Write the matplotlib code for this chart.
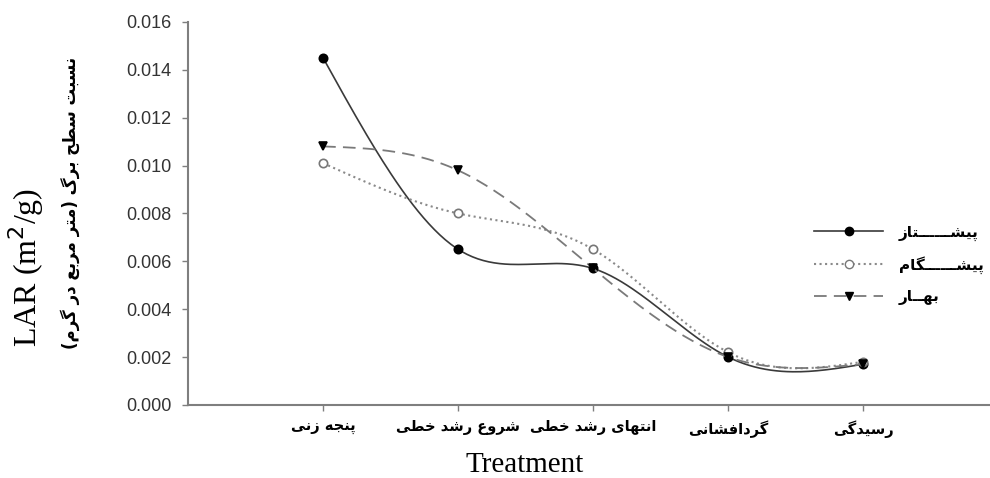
import numpy as np
import matplotlib
matplotlib.use('Agg')
import matplotlib.pyplot as plt

# Data
stages = ['پنجه زنی', 'شروع رشد خطی', 'انتهای رشد خطی', 'گردافشانی', 'رسیدگی']
x_pos = [1, 2, 3, 4, 5]
pishtaz = [0.0145, 0.0065, 0.0057, 0.0020, 0.0017]
pishgam = [0.0101, 0.0080, 0.0065, 0.0022, 0.0018]
bahar = [0.0108, 0.0098, 0.0057, 0.0020, 0.0017]
series_names = ['پیشــــــتاز', 'پیشــــــگام', 'بهــار']
y_label_fa = 'نسبت سطح برگ (متر مربع در گرم)'

# Arabic-script shaping (matplotlib has no RTL/shaping support)
# letter: (isolated, final, initial, medial)
FORMS = {
    'ا': ('\uFE8D', '\uFE8E', None, None),
    'ب': ('\uFE8F', '\uFE90', '\uFE91', '\uFE92'),
    'ت': ('\uFE95', '\uFE96', '\uFE97', '\uFE98'),
    'ج': ('\uFE9D', '\uFE9E', '\uFE9F', '\uFEA0'),
    'ح': ('\uFEA1', '\uFEA2', '\uFEA3', '\uFEA4'),
    'خ': ('\uFEA5', '\uFEA6', '\uFEA7', '\uFEA8'),
    'د': ('\uFEA9', '\uFEAA', None, None),
    'ر': ('\uFEAD', '\uFEAE', None, None),
    'ز': ('\uFEAF', '\uFEB0', None, None),
    'س': ('\uFEB1', '\uFEB2', '\uFEB3', '\uFEB4'),
    'ش': ('\uFEB5', '\uFEB6', '\uFEB7', '\uFEB8'),
    'ط': ('\uFEC1', '\uFEC2', '\uFEC3', '\uFEC4'),
    'ع': ('\uFEC9', '\uFECA', '\uFECB', '\uFECC'),
    'ف': ('\uFED1', '\uFED2', '\uFED3', '\uFED4'),
    'م': ('\uFEE1', '\uFEE2', '\uFEE3', '\uFEE4'),
    'ن': ('\uFEE5', '\uFEE6', '\uFEE7', '\uFEE8'),
    'ه': ('\uFEE9', '\uFEEA', '\uFEEB', '\uFEEC'),
    'و': ('\uFEED', '\uFEEE', None, None),
    'ی': ('\uFBFC', '\uFBFD', '\uFBFE', '\uFBFF'),
    'پ': ('\uFB56', '\uFB57', '\uFB58', '\uFB59'),
    'گ': ('\uFB92', '\uFB93', '\uFB94', '\uFB95'),
    'ـ': ('\u0640', '\u0640', '\u0640', '\u0640'),
}


def fa(text):
    chars = list(text)
    out = []
    for i, c in enumerate(chars):
        if c not in FORMS:
            out.append(c)
            continue
        prev = chars[i - 1] if i > 0 else None
        nxt = chars[i + 1] if i + 1 < len(chars) else None
        join_prev = prev in FORMS and FORMS[prev][2] is not None
        join_next = nxt in FORMS and FORMS[c][2] is not None
        iso, fin, ini, med = FORMS[c]
        if join_prev and join_next:
            out.append(med)
        elif join_prev:
            out.append(fin)
        elif join_next:
            out.append(ini)
        else:
            out.append(iso)
    swap = {'(': ')', ')': '('}
    return ''.join(swap.get(c, c) for c in reversed(out))


def spline(x, y, n=200):
    # natural cubic spline, only used to draw the smooth connecting curve
    x = np.asarray(x, float)
    y = np.asarray(y, float)
    k = len(x)
    h = np.diff(x)
    A = np.zeros((k, k))
    b = np.zeros(k)
    A[0, 0] = A[-1, -1] = 1
    for i in range(1, k - 1):
        A[i, i - 1] = h[i - 1]
        A[i, i] = 2 * (h[i - 1] + h[i])
        A[i, i + 1] = h[i]
        b[i] = 6 * ((y[i + 1] - y[i]) / h[i] - (y[i] - y[i - 1]) / h[i - 1])
    M = np.linalg.solve(A, b)
    xs = np.linspace(x[0], x[-1], n)
    idx = np.clip(np.searchsorted(x, xs) - 1, 0, k - 2)
    x0, x1 = x[idx], x[idx + 1]
    hh = x1 - x0
    ys = (M[idx] * (x1 - xs) ** 3 / (6 * hh) + M[idx + 1] * (xs - x0) ** 3 / (6 * hh)
          + (y[idx] / hh - M[idx] * hh / 6) * (x1 - xs)
          + (y[idx + 1] / hh - M[idx + 1] * hh / 6) * (xs - x0))
    return xs, ys


fig = plt.figure(figsize=(9.9, 4.78), dpi=100)
ax = fig.add_axes([0.19, 0.153, 0.81, 0.801])

styles = [
    dict(ls='-', color='#3a3a3a', marker='o', mfc='black', mec='black', lw=1.2),
    dict(ls=':', color='#8a8a8a', marker='o', mfc='white', mec='#777777', lw=1.5),
    dict(ls=(0, (7, 4)), color='#7a7a7a', marker='v', mfc='black', mec='black', lw=1.3),
]

for vals, name, st in zip([pishtaz, pishgam, bahar], series_names, styles):
    xs, ys = spline(x_pos, vals)
    ax.plot(xs, ys, ls=st['ls'], color=st['color'], lw=st['lw'])
    ax.plot(x_pos, vals, ls='none', marker=st['marker'], ms=6,
            mfc=st['mfc'], mec=st['mec'], mew=1.2)
    ax.plot([], [], ls=st['ls'], color=st['color'], lw=st['lw'],
            marker=st['marker'], ms=6, mfc=st['mfc'], mec=st['mec'],
            label=fa(name))

ax.set_xlim(0, 5.94)
ax.set_ylim(0, 0.016)
ax.set_yticks(np.arange(0, 0.0161, 0.002))
ax.set_yticklabels([f'{v:.3f}' for v in np.arange(0, 0.0161, 0.002)],
                   fontsize=13, color='#333333', family='Liberation Sans')
ax.set_xticks(x_pos)
ax.set_xticklabels([fa(s) for s in stages], fontsize=10.5, fontweight='bold',
                   family='DejaVu Sans')

for s in ['top', 'right']:
    ax.spines[s].set_visible(False)
for s in ['left', 'bottom']:
    ax.spines[s].set_color('#7f7f7f')
    ax.spines[s].set_linewidth(1.5)
ax.tick_params(axis='both', colors='#7f7f7f', length=4, width=1)
ax.tick_params(axis='y', labelcolor='#333333', pad=8)
ax.tick_params(axis='x', labelcolor='black', pad=7)

ax.set_xlabel('Treatment', family='Liberation Serif', fontsize=21, va='center')
ax.xaxis.set_label_coords(0.42, -0.157)

fig.text(0.026, 0.44, 'LAR (m$^2$/g)', rotation=90, ha='center', va='center',
         family='Liberation Serif', fontsize=23)
fig.text(0.071, 0.575, fa(y_label_fa), rotation=90, ha='center', va='center',
         family='DejaVu Sans', fontsize=12, fontweight='bold')

ax.legend(loc='center left', bbox_to_anchor=(0.815, 0.446),
          bbox_transform=fig.transFigure, frameon=False, borderpad=0,
          prop={'family': 'DejaVu Sans', 'weight': 'bold', 'size': 11},
          handlelength=4.5, handletextpad=1.0, labelspacing=1.0)

fig.savefig('out.png', dpi=100)
